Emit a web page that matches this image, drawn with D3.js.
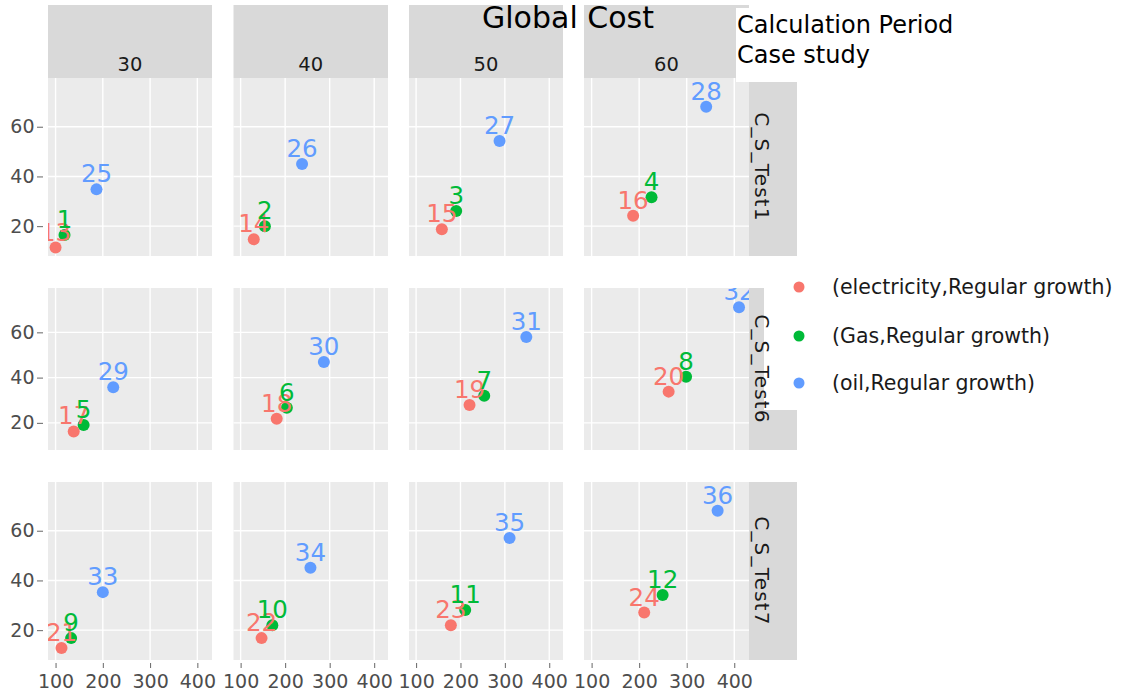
<!DOCTYPE html>
<html><head><meta charset="utf-8">
<script src="https://cdn.jsdelivr.net/npm/d3@7"></script>
<style>body{margin:0;background:#fff}svg{display:block}text{font-family:"DejaVu Sans",Verdana,sans-serif}</style>
</head><body><svg id="c" width="1121" height="699"></svg>
<script>
const periods = [30, 40, 50, 60];
const cases = ["C_S_Test1", "C_S_Test6", "C_S_Test7"];
const seriesNames = ["(electricity,Regular growth)", "(Gas,Regular growth)", "(oil,Regular growth)"];
const seriesColors = ["#F8766D", "#00BA38", "#619CFF"];
const xTicks = [100, 200, 300, 400];
const yTicks = [20, 40, 60];
// values ordered case by case, period by period
const elecX = [100, 129.5, 158, 187.3, 138.4, 181, 220.4, 262, 112.6, 147, 178.3, 210.6];
const elecY = [11.4, 14.7, 18.8, 24.2, 16.2, 21.8, 27.9, 33.8, 12.8, 16.8, 22, 27.1];
const elecLabels = [13, 14, 15, 16, 17, 18, 19, 20, 21, 22, 23, 24];
const gasX = [118.9, 154.5, 190.3, 226, 159.4, 203.8, 253.5, 298.7, 132.9, 171.2, 210.6, 249.4];
const gasY = [16.4, 20, 26.1, 31.6, 19.1, 26.7, 32, 40.4, 16.8, 22, 28.1, 34.1];
const gasLabels = [1, 2, 3, 4, 5, 6, 7, 8, 9, 10, 11, 12];
const oilX = [186.6, 238, 288, 341, 222, 287, 348.3, 410, 200, 256.8, 310.6, 365];
const oilY = [34.8, 45, 54.3, 68, 35.7, 46.9, 57.9, 71.1, 35.3, 45.1, 57.1, 68];
const oilLabels = [25, 26, 27, 28, 29, 30, 31, 32, 33, 34, 35, 36];
const xDomain = [84, 431];
const yDomain = [8, 79.6];

const seriesData = [[elecX, elecY, elecLabels], [gasX, gasY, gasLabels], [oilX, oilY, oilLabels]];
const points = [];
seriesData.forEach(([xs, ys, ls], s) => {
  xs.forEach((x, i) => points.push({s, x, y: ys[i], label: ls[i], caseIdx: Math.floor(i / 4), periodIdx: i % 4}));
});

const svg = d3.select("#c");
const colX = [[48, 212], [233.5, 388], [409, 563], [584, 749]];
const rowY = [[78, 256], [288, 450], [482, 660]];
const F = '"DejaVu Sans",Verdana,sans-serif';

const defs = svg.append("defs");
cases.forEach((cs, r) => {
  periods.forEach((p, c) => {
    const [x0, x1] = colX[c], [y0, y1] = rowY[r];
    const xs = d3.scaleLinear().domain(xDomain).range([x0, x1]);
    const ys = d3.scaleLinear().domain(yDomain).range([y1, y0]);
    const g = svg.append("g");
    g.append("rect").attr("x", x0).attr("y", y0).attr("width", x1 - x0).attr("height", y1 - y0).attr("fill", "#EBEBEB");
    g.selectAll(".gx").data(xTicks).join("line").attr("x1", d => xs(d)).attr("x2", d => xs(d)).attr("y1", y0).attr("y2", y1).attr("stroke", "#fff").attr("stroke-width", 1.4);
    g.selectAll(".gy").data(yTicks).join("line").attr("y1", d => ys(d)).attr("y2", d => ys(d)).attr("x1", x0).attr("x2", x1).attr("stroke", "#fff").attr("stroke-width", 1.4);
    const id = `clip${r}${c}`;
    defs.append("clipPath").attr("id", id).append("rect").attr("x", x0).attr("y", y0).attr("width", x1 - x0).attr("height", y1 - y0);
    const pts = points.filter(d => d.caseIdx === r && d.periodIdx === c);
    const m = g.append("g").attr("clip-path", `url(#${id})`);
    m.selectAll("circle").data(pts).join("circle").attr("cx", d => xs(d.x)).attr("cy", d => ys(d.y)).attr("r", 6).attr("fill", d => seriesColors[d.s]);
    m.selectAll("text").data(pts).join("text").attr("x", d => xs(d.x)).attr("y", d => ys(d.y) - 7).attr("text-anchor", "middle")
      .attr("font-size", 24.5).attr("fill", d => seriesColors[d.s]).text(d => d.label);
    if (c === 0) {
      const ax = g.append("g").attr("transform", `translate(${x0 - 5},0)`).call(d3.axisLeft(ys).tickValues(yTicks).tickSize(6).tickPadding(2.5));
      ax.select(".domain").remove();
      ax.selectAll("line").attr("stroke", "#666");
      ax.selectAll("text").attr("font-size", 19).attr("font-family", F).attr("fill", "#4D4D4D");
    }
    if (r === 2) {
      const ax = g.append("g").attr("transform", `translate(0,${y1 + 3})`).call(d3.axisBottom(xs).tickValues(xTicks).tickSize(5).tickPadding(7));
      ax.select(".domain").remove();
      ax.selectAll("line").attr("stroke", "#666");
      ax.selectAll("text").attr("font-size", 19).attr("font-family", F).attr("fill", "#4D4D4D");
    }
  });
});

// top strips
periods.forEach((p, c) => {
  const [x0, x1] = colX[c];
  svg.append("rect").attr("x", x0).attr("y", 5).attr("width", x1 - x0).attr("height", 73).attr("fill", "#D9D9D9");
  svg.append("text").attr("x", (x0 + x1) / 2).attr("y", 71).attr("text-anchor", "middle").attr("font-size", 19.5).attr("fill", "#1A1A1A").text(p);
});
// right strips (backgrounds)
cases.forEach((cs, r) => {
  const [y0, y1] = rowY[r];
  svg.append("rect").attr("x", 749).attr("y", y0).attr("width", 48).attr("height", y1 - y0).attr("fill", "#D9D9D9");
});

// title
svg.append("text").attr("x", 568).attr("y", 28).attr("text-anchor", "middle").attr("font-size", 30).attr("fill", "#000").text("Global Cost");

// legend title box
svg.append("rect").attr("x", 736).attr("y", 8).attr("width", 385).attr("height", 74).attr("fill", "#fff");
svg.append("text").attr("x", 737).attr("y", 33).attr("font-size", 24).attr("fill", "#000").text("Calculation Period");
svg.append("text").attr("x", 737).attr("y", 63).attr("font-size", 24).attr("fill", "#000").text("Case study");

// legend
svg.append("rect").attr("x", 764).attr("y", 268).attr("width", 357).attr("height", 142).attr("fill", "#fff");
const lg = svg.append("g").selectAll("g").data(seriesNames).join("g").attr("transform", (d, i) => `translate(0,${[287, 336, 383][i]})`);
lg.append("circle").attr("cx", 799).attr("cy", 0).attr("r", 5.5).attr("fill", (d, i) => seriesColors[i]);
lg.append("text").attr("x", 832).attr("y", 7).attr("font-size", 20.5).attr("fill", "#1A1A1A").text(d => d);

// right strip labels (drawn above legend background, as in the reference)
cases.forEach((cs, r) => {
  const [y0, y1] = rowY[r];
  svg.append("text").attr("transform", `translate(755,${(y0 + y1) / 2}) rotate(90)`).attr("text-anchor", "middle")
    .attr("font-size", 20).attr("letter-spacing", 1.2).attr("fill", "#1A1A1A").text(cs);
});
</script></body></html>
